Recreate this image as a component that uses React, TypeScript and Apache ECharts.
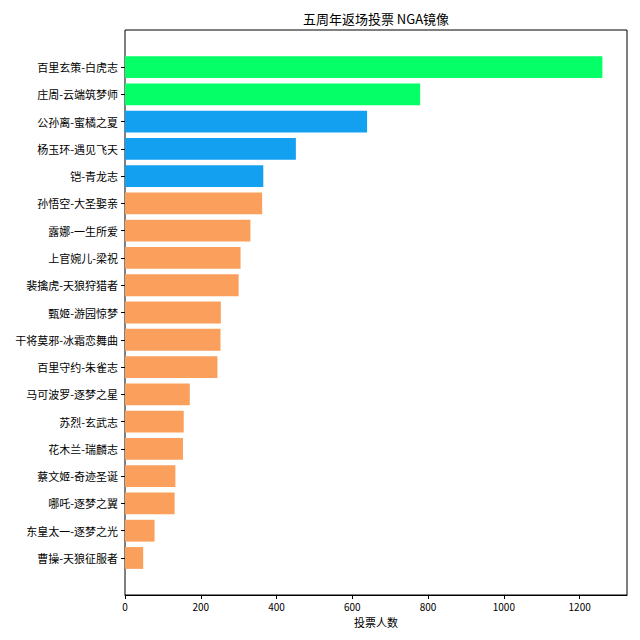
import React from 'react';
import * as echarts from 'echarts';

const skinNames = [
  '百里玄策-白虎志',
  '庄周-云端筑梦师',
  '公孙离-蜜橘之夏',
  '杨玉环-遇见飞天',
  '铠-青龙志',
  '孙悟空-大圣娶亲',
  '露娜-一生所爱',
  '上官婉儿-梁祝',
  '裴擒虎-天狼狩猎者',
  '甄姬-游园惊梦',
  '干将莫邪-冰霜恋舞曲',
  '百里守约-朱雀志',
  '马可波罗-逐梦之星',
  '苏烈-玄武志',
  '花木兰-瑞麟志',
  '蔡文姬-奇迹圣诞',
  '哪吒-逐梦之翼',
  '东皇太一-逐梦之光',
  '曹操-天狼征服者',
];

const votes = [1260, 779, 639, 451, 365, 362, 331, 305, 300, 253, 252, 244, 171, 155, 153, 133, 131, 78, 48];

// 每个皮肤的分组: 0 = 前二, 1 = 三到五, 2 = 其余
const tiers = [0, 0, 1, 1, 1, 2, 2, 2, 2, 2, 2, 2, 2, 2, 2, 2, 2, 2, 2];
const tierColors = ['#05FF66', '#14A0F0', '#FA9F5C'];

const xTicks = [0, 200, 400, 600, 800, 1000, 1200];

const FONT = '"Noto Sans CJK SC", "DejaVu Sans", sans-serif';

const App = () => {
  const chartRef = React.useRef<HTMLDivElement>(null);

  React.useEffect(() => {
    const myChart = echarts.init(chartRef.current, null, { renderer: 'svg' });
    const xMax = 1325;

    const option: any = {
      animation: false,
      backgroundColor: '#fff',
      textStyle: { fontFamily: FONT },
      graphic: [
        {
          type: 'text',
          x: 376,
          y: 18,
          style: {
            text: '五周年返场投票 NGA镜像',
            fontSize: 13,
            fontFamily: FONT,
            fill: '#000',
            textAlign: 'center',
            textVerticalAlign: 'middle',
          },
        },
      ],
      grid: [
        // 外框 (matplotlib 的 axes 区域)
        { left: 125, right: 13, top: 30, bottom: 45, show: true, borderColor: '#000', borderWidth: 1 },
        // 柱子所在区域, 上下各留出 matplotlib 的边距
        { left: 125, right: 13, top: 53.4, bottom: 68.4 },
      ],
      xAxis: [
        {
          gridIndex: 0,
          type: 'value',
          min: 0,
          max: xMax,
          interval: 200,
          splitLine: { show: false },
          axisLine: { show: true, lineStyle: { color: '#000' } },
          axisTick: { show: true, length: 4, lineStyle: { color: '#000' } },
          axisLabel: {
            showMaxLabel: false,
            color: '#000',
            fontSize: 10,
            margin: 6,
            formatter: (v: number) => (xTicks.includes(v) ? String(v) : ''),
          },
          name: '投票人数',
          nameLocation: 'middle',
          nameGap: 21,
          nameTextStyle: { color: '#000', fontSize: 11 },
        },
        { gridIndex: 1, type: 'value', min: 0, max: xMax, show: false },
      ],
      yAxis: [
        { gridIndex: 0, type: 'value', show: false },
        {
          gridIndex: 1,
          type: 'category',
          inverse: true,
          data: skinNames,
          axisLine: { show: false },
          axisTick: { show: true, alignWithLabel: true, length: 4, lineStyle: { color: '#000' } },
          axisLabel: { color: '#000', fontSize: 11, margin: 7 },
        },
      ],
      series: [
        {
          type: 'bar',
          xAxisIndex: 1,
          yAxisIndex: 1,
          barCategoryGap: '20%',
          data: votes.map((v, i) => ({ value: v, itemStyle: { color: tierColors[tiers[i]] } })),
        },
      ],
    };

    myChart.setOption(option);

    return () => {
      myChart.dispose();
    };
  }, []);

  return (
    <div
      ref={chartRef}
      style={{ position: 'fixed', left: 0, top: 0, width: '640px', height: '640px' }}
    />
  );
};

export default App;
